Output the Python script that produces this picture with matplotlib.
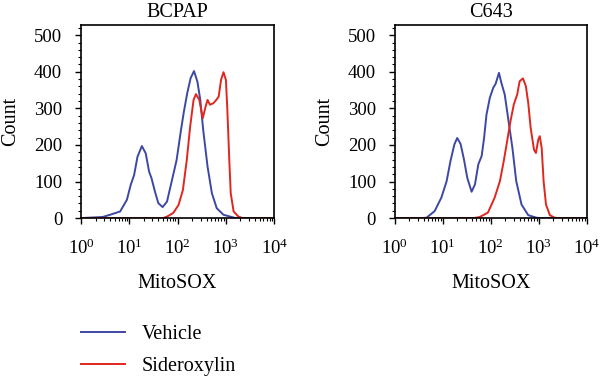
import matplotlib
matplotlib.use("Agg")
import matplotlib.pyplot as plt
import numpy as np
from matplotlib.ticker import LogLocator, LogFormatterMathtext, MultipleLocator

plt.rcParams["font.family"] = ["Liberation Serif", "DejaVu Serif"]
plt.rcParams["mathtext.fontset"] = "custom"
plt.rcParams["mathtext.rm"] = "Liberation Serif"

# log10(MitoSOX) positions and counts
bcpap_vehicle_log = [0.0, 0.45, 0.60, 0.81, 0.95, 1.03, 1.10, 1.17, 1.26, 1.34, 1.41, 1.46,
                     1.53, 1.60, 1.69, 1.78, 1.87, 1.98, 2.07, 2.13, 2.20, 2.27, 2.34,
                     2.41, 2.47, 2.53, 2.62, 2.71, 2.81, 2.95, 3.09, 3.2, 4.0]
bcpap_vehicle_cnt = [0, 3, 9, 18, 50, 91, 118, 168, 197, 177, 127, 109,
                     73, 41, 30, 45, 96, 159, 241, 291, 342, 383, 402,
                     373, 323, 241, 141, 68, 27, 9, 4, 0, 0]
bcpap_sider_log = [0.0, 1.70, 1.78, 1.91, 2.02, 2.11, 2.19, 2.26, 2.33, 2.38, 2.45, 2.52,
                   2.58, 2.62, 2.67, 2.74, 2.80, 2.85, 2.90, 2.95, 3.00, 3.03, 3.07,
                   3.10, 3.16, 3.26, 3.35, 4.0]
bcpap_sider_cnt = [0, 0, 4, 14, 36, 77, 159, 250, 323, 339, 323, 273,
                   305, 323, 310, 314, 323, 332, 378, 399, 378, 296, 159,
                   68, 18, 4, 0, 0]

c643_vehicle_log = [0.0, 0.55, 0.66, 0.83, 0.97, 1.08, 1.16, 1.24, 1.30, 1.37, 1.44, 1.51,
                    1.60, 1.67, 1.74, 1.81, 1.86, 1.91, 1.98, 2.05, 2.10, 2.17, 2.22,
                    2.29, 2.36, 2.45, 2.53, 2.64, 2.78, 2.95, 3.05, 4.0]
c643_vehicle_cnt = [0, 0, 1, 19, 56, 101, 156, 201, 219, 203, 161, 110,
                    72, 92, 147, 170, 219, 283, 329, 356, 367, 397, 370,
                    338, 274, 192, 101, 37, 8, 1, 0, 0]
c643_sider_log = [0.0, 1.65, 1.77, 1.94, 2.08, 2.19, 2.27, 2.34, 2.41, 2.48, 2.55, 2.60,
                  2.67, 2.73, 2.78, 2.83, 2.90, 2.94, 2.99, 3.02, 3.06, 3.10, 3.15,
                  3.23, 3.33, 3.42, 4.0]
c643_sider_cnt = [0, 0, 3, 15, 56, 101, 156, 210, 265, 311, 338, 374,
                  382, 361, 315, 247, 187, 178, 215, 224, 192, 101, 37,
                  8, 1, 0, 0]

panels = [
    ("BCPAP", bcpap_vehicle_log, bcpap_vehicle_cnt, bcpap_sider_log, bcpap_sider_cnt),
    ("C643", c643_vehicle_log, c643_vehicle_cnt, c643_sider_log, c643_sider_cnt),
]

BLUE = "#3d48a3"
RED = "#e1261f"

fig = plt.figure(figsize=(6.0, 3.76), dpi=100)
ax_rects = [[0.135, 0.42, 0.322, 0.5135], [0.658, 0.42, 0.32, 0.5135]]

lines = []
for rect, (title, v_log, v_cnt, s_log, s_cnt) in zip(ax_rects, panels):
    ax = fig.add_axes(rect)
    lv, = ax.plot(10 ** np.array(v_log), v_cnt, color=BLUE, linewidth=1.4)
    ls, = ax.plot(10 ** np.array(s_log), s_cnt, color=RED, linewidth=1.4)
    lines = [lv, ls]

    ax.set_xscale("log")
    ax.set_xlim(1, 1e4)
    ax.set_ylim(0, 528)
    ax.xaxis.set_major_locator(LogLocator(base=10, numticks=10))
    ax.xaxis.set_minor_locator(LogLocator(base=10, subs=np.arange(2, 10), numticks=10))
    ax.xaxis.set_major_formatter(LogFormatterMathtext())
    ax.yaxis.set_major_locator(MultipleLocator(100))
    ax.yaxis.set_minor_locator(MultipleLocator(20))

    ax.tick_params(axis="both", which="major", direction="out", length=4.5,
                   width=1.0, labelsize=13.5)
    ax.tick_params(axis="y", which="major", pad=9)
    ax.tick_params(axis="x", which="major", pad=10)
    ax.tick_params(axis="both", which="minor", direction="out", length=2.2, width=0.8)
    for sp in ax.spines.values():
        sp.set_linewidth(1.2)

    ax.set_title(title, fontsize=14.5, pad=6)
    ax.set_xlabel("MitoSOX", fontsize=14.5, labelpad=12)
    ax.set_ylabel("Count", fontsize=14.5, labelpad=10)

fig.legend(lines, ["Vehicle", "Sideroxylin"], loc="upper left",
           bbox_to_anchor=(0.105, 0.185), bbox_transform=fig.transFigure,
           frameon=False, fontsize=14.5, handlelength=2.2, handletextpad=0.8,
           labelspacing=0.65)

fig.savefig("out.png", dpi=100)
